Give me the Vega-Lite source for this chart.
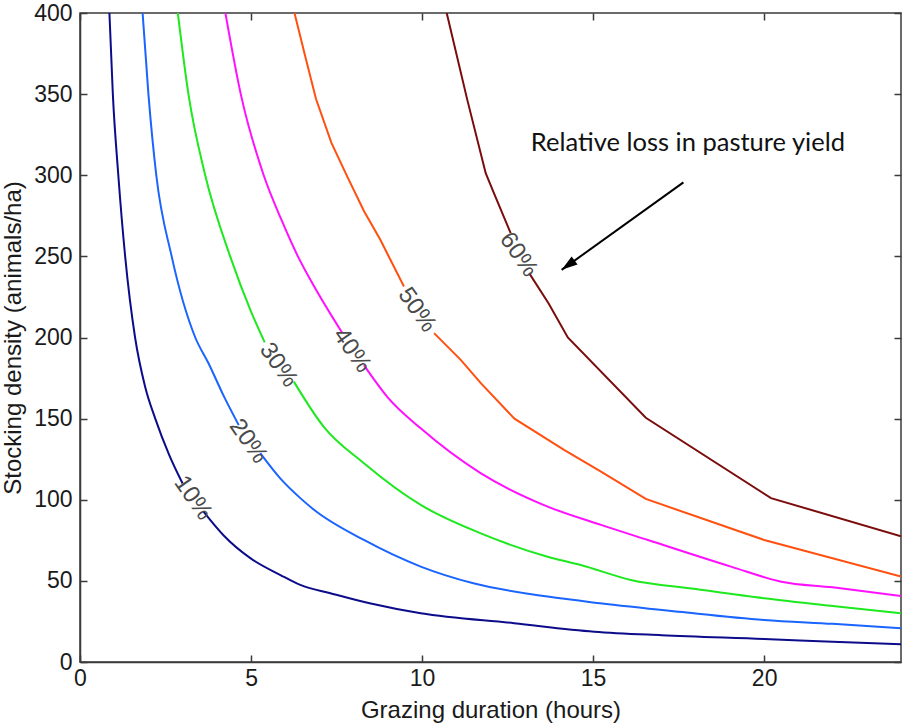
{
  "$schema": "https://vega.github.io/schema/vega-lite/v6.json",
  "width": 821,
  "height": 649,
  "autosize": {"type": "none"},
  "padding": {"left": 80, "top": 13, "right": 4, "bottom": 61},
  "background": "white",
  "config": {
    "view": {"stroke": "#3a3a3a", "strokeWidth": 1.5},
    "axis": {
      "labelFont": "Liberation Sans",
      "titleFont": "Liberation Sans",
      "labelFontSize": 23,
      "titleFontSize": 24,
      "titleFontWeight": "normal",
      "labelColor": "#1a1a1a",
      "titleColor": "#1a1a1a",
      "labelFlush": false,
      "grid": false,
      "domainColor": "#3a3a3a",
      "domainWidth": 1.5,
      "tickColor": "#3a3a3a",
      "tickWidth": 1.5,
      "tickSize": -7
    }
  },
  "datasets": {
    "curves": [
      {"loss": "10%", "seg": "a", "x": 0.86, "y": 400},
      {"loss": "10%", "seg": "a", "x": 0.96, "y": 350},
      {"loss": "10%", "seg": "a", "x": 1.12, "y": 300},
      {"loss": "10%", "seg": "a", "x": 1.32, "y": 250},
      {"loss": "10%", "seg": "a", "x": 1.61, "y": 200},
      {"loss": "10%", "seg": "a", "x": 1.9, "y": 170},
      {"loss": "10%", "seg": "a", "x": 2.2, "y": 150},
      {"loss": "10%", "seg": "a", "x": 2.6, "y": 128},
      {"loss": "10%", "seg": "a", "x": 3.0, "y": 110},
      {"loss": "10%", "seg": "b", "x": 3.61, "y": 92.7},
      {"loss": "10%", "seg": "b", "x": 4.2, "y": 78},
      {"loss": "10%", "seg": "b", "x": 4.98, "y": 64},
      {"loss": "10%", "seg": "b", "x": 5.86, "y": 53.6},
      {"loss": "10%", "seg": "b", "x": 6.44, "y": 47.5},
      {"loss": "10%", "seg": "b", "x": 7.32, "y": 42.4},
      {"loss": "10%", "seg": "b", "x": 8.5, "y": 36},
      {"loss": "10%", "seg": "b", "x": 9.96, "y": 30},
      {"loss": "10%", "seg": "b", "x": 12.69, "y": 23.9},
      {"loss": "10%", "seg": "b", "x": 15.03, "y": 18.7},
      {"loss": "10%", "seg": "b", "x": 17, "y": 16.5},
      {"loss": "10%", "seg": "b", "x": 20, "y": 14.2},
      {"loss": "10%", "seg": "b", "x": 22, "y": 12.5},
      {"loss": "10%", "seg": "b", "x": 24, "y": 10.9},

      {"loss": "20%", "seg": "a", "x": 1.83, "y": 400},
      {"loss": "20%", "seg": "a", "x": 2.0, "y": 350},
      {"loss": "20%", "seg": "a", "x": 2.23, "y": 300},
      {"loss": "20%", "seg": "a", "x": 2.68, "y": 250},
      {"loss": "20%", "seg": "a", "x": 3.37, "y": 200},
      {"loss": "20%", "seg": "a", "x": 3.76, "y": 184},
      {"loss": "20%", "seg": "a", "x": 4.2, "y": 164},
      {"loss": "20%", "seg": "a", "x": 4.64, "y": 146},
      {"loss": "20%", "seg": "b", "x": 5.27, "y": 128.7},
      {"loss": "20%", "seg": "b", "x": 5.86, "y": 113},
      {"loss": "20%", "seg": "b", "x": 6.44, "y": 101},
      {"loss": "20%", "seg": "b", "x": 6.83, "y": 94},
      {"loss": "20%", "seg": "b", "x": 8.3, "y": 75.2},
      {"loss": "20%", "seg": "b", "x": 9.96, "y": 58.8},
      {"loss": "20%", "seg": "b", "x": 11.5, "y": 48.5},
      {"loss": "20%", "seg": "b", "x": 13.67, "y": 40.3},
      {"loss": "20%", "seg": "b", "x": 15.2, "y": 36.2},
      {"loss": "20%", "seg": "b", "x": 17.5, "y": 31},
      {"loss": "20%", "seg": "b", "x": 20, "y": 25.9},
      {"loss": "20%", "seg": "b", "x": 22, "y": 23.5},
      {"loss": "20%", "seg": "b", "x": 24, "y": 20.8},

      {"loss": "30%", "seg": "a", "x": 2.86, "y": 400},
      {"loss": "30%", "seg": "a", "x": 3.17, "y": 350},
      {"loss": "30%", "seg": "a", "x": 3.66, "y": 300},
      {"loss": "30%", "seg": "a", "x": 4.39, "y": 250},
      {"loss": "30%", "seg": "a", "x": 5.0, "y": 216},
      {"loss": "30%", "seg": "a", "x": 5.4, "y": 197},
      {"loss": "30%", "seg": "b", "x": 6.25, "y": 172.8},
      {"loss": "30%", "seg": "b", "x": 7.12, "y": 145.1},
      {"loss": "30%", "seg": "b", "x": 8.3, "y": 122.5},
      {"loss": "30%", "seg": "b", "x": 9.96, "y": 96.8},
      {"loss": "30%", "seg": "b", "x": 11.7, "y": 79.4},
      {"loss": "30%", "seg": "b", "x": 13.67, "y": 64.9},
      {"loss": "30%", "seg": "b", "x": 14.64, "y": 59.8},
      {"loss": "30%", "seg": "b", "x": 16.1, "y": 50.6},
      {"loss": "30%", "seg": "b", "x": 18, "y": 45},
      {"loss": "30%", "seg": "b", "x": 20, "y": 39.3},
      {"loss": "30%", "seg": "b", "x": 22, "y": 34.5},
      {"loss": "30%", "seg": "b", "x": 24, "y": 30},

      {"loss": "40%", "seg": "a", "x": 4.25, "y": 400},
      {"loss": "40%", "seg": "a", "x": 4.7, "y": 350},
      {"loss": "40%", "seg": "a", "x": 5.37, "y": 300},
      {"loss": "40%", "seg": "a", "x": 5.9, "y": 272},
      {"loss": "40%", "seg": "a", "x": 6.37, "y": 250},
      {"loss": "40%", "seg": "a", "x": 6.83, "y": 232},
      {"loss": "40%", "seg": "a", "x": 7.66, "y": 203},
      {"loss": "40%", "seg": "b", "x": 8.3, "y": 183},
      {"loss": "40%", "seg": "b", "x": 9.0, "y": 163},
      {"loss": "40%", "seg": "b", "x": 9.96, "y": 144},
      {"loss": "40%", "seg": "b", "x": 11.71, "y": 116.4},
      {"loss": "40%", "seg": "b", "x": 13.67, "y": 95.8},
      {"loss": "40%", "seg": "b", "x": 15.23, "y": 84.5},
      {"loss": "40%", "seg": "b", "x": 16.6, "y": 75.2},
      {"loss": "40%", "seg": "b", "x": 19.03, "y": 58.8},
      {"loss": "40%", "seg": "b", "x": 20.5, "y": 49.5},
      {"loss": "40%", "seg": "b", "x": 22, "y": 46},
      {"loss": "40%", "seg": "b", "x": 24, "y": 40.7},

      {"loss": "50%", "seg": "a", "x": 6.27, "y": 400},
      {"loss": "50%", "seg": "a", "x": 6.6, "y": 372},
      {"loss": "50%", "seg": "a", "x": 6.9, "y": 347},
      {"loss": "50%", "seg": "a", "x": 7.35, "y": 320},
      {"loss": "50%", "seg": "a", "x": 7.81, "y": 299.3},
      {"loss": "50%", "seg": "a", "x": 8.3, "y": 278},
      {"loss": "50%", "seg": "a", "x": 8.78, "y": 260.2},
      {"loss": "50%", "seg": "a", "x": 9.47, "y": 231.4},
      {"loss": "50%", "seg": "b", "x": 10.35, "y": 202.7},
      {"loss": "50%", "seg": "b", "x": 11.13, "y": 186.2},
      {"loss": "50%", "seg": "b", "x": 11.71, "y": 172},
      {"loss": "50%", "seg": "b", "x": 12.7, "y": 150},
      {"loss": "50%", "seg": "b", "x": 14.15, "y": 130.7},
      {"loss": "50%", "seg": "b", "x": 15.23, "y": 117.4},
      {"loss": "50%", "seg": "b", "x": 16.54, "y": 100.5},
      {"loss": "50%", "seg": "b", "x": 20, "y": 75.2},
      {"loss": "50%", "seg": "b", "x": 24, "y": 52.6},

      {"loss": "60%", "seg": "a", "x": 10.72, "y": 400},
      {"loss": "60%", "seg": "a", "x": 11.32, "y": 346.6},
      {"loss": "60%", "seg": "a", "x": 11.86, "y": 301.3},
      {"loss": "60%", "seg": "a", "x": 12.1, "y": 289},
      {"loss": "60%", "seg": "a", "x": 12.59, "y": 264.3},
      {"loss": "60%", "seg": "b", "x": 13.13, "y": 239.7},
      {"loss": "60%", "seg": "b", "x": 13.7, "y": 221},
      {"loss": "60%", "seg": "b", "x": 14.26, "y": 200},
      {"loss": "60%", "seg": "b", "x": 16.54, "y": 150.5},
      {"loss": "60%", "seg": "b", "x": 20.2, "y": 101},
      {"loss": "60%", "seg": "b", "x": 24, "y": 77.5}
    ],
    "labels": [
      {"loss": "10%", "x": 3.3, "y": 101},
      {"loss": "20%", "x": 4.92, "y": 136},
      {"loss": "30%", "x": 5.8, "y": 183},
      {"loss": "40%", "x": 7.95, "y": 192},
      {"loss": "50%", "x": 9.85, "y": 217},
      {"loss": "60%", "x": 12.82, "y": 251}
    ],
    "note": [
      {"text": "Relative loss in pasture yield", "x": 13.18, "y": 320}
    ],
    "arrow": [
      {"x": 17.64, "y": 295.6, "x2": 14.08, "y2": 241.7}
    ]
  },
  "layer": [
    {
      "data": {"name": "curves"},
      "transform": [{"filter": "datum.loss == '10%' || datum.loss == '20%' || datum.loss == '30%' || datum.loss == '40%'"}],
      "mark": {"type": "line", "strokeWidth": 2, "clip": true, "interpolate": "monotone"},
      "encoding": {
        "x": {
          "field": "x", "type": "quantitative",
          "scale": {"domain": [0, 24], "nice": false, "zero": false},
          "axis": {"title": "Grazing duration (hours)", "values": [0, 5, 10, 15, 20], "labelPadding": 12, "titlePadding": 8}
        },
        "y": {
          "field": "y", "type": "quantitative",
          "scale": {"domain": [0, 400], "nice": false},
          "axis": {"title": "Stocking density (animals/ha)", "values": [0, 50, 100, 150, 200, 250, 300, 350, 400], "labelPadding": 15, "titlePadding": 8}
        },
        "detail": {"field": "seg"},
        "color": {
          "field": "loss", "type": "nominal", "legend": null,
          "scale": {
            "domain": ["10%", "20%", "30%", "40%", "50%", "60%"],
            "range": ["#0c0c8a", "#1a64ff", "#1ee81e", "#ff10ff", "#ff5010", "#7a0c0c"]
          }
        }
      }
    },
    {
      "data": {"name": "curves"},
      "transform": [{"filter": "datum.loss == '50%' || datum.loss == '60%'"}],
      "mark": {"type": "line", "strokeWidth": 2, "clip": true, "interpolate": "linear"},
      "encoding": {
        "x": {"field": "x", "type": "quantitative", "axis": null},
        "y": {"field": "y", "type": "quantitative", "axis": null},
        "detail": {"field": "seg"},
        "color": {"field": "loss", "type": "nominal", "legend": null}
      }
    },
    {
      "data": {"name": "labels"},
      "mark": {"type": "text", "angle": 55, "font": "Liberation Sans", "fontSize": 24, "color": "#4a4a4a", "align": "center", "baseline": "middle"},
      "encoding": {
        "x": {"field": "x", "type": "quantitative", "axis": {"orient": "top", "labels": false, "title": null, "domain": false, "values": [0, 5, 10, 15, 20]}},
        "y": {"field": "y", "type": "quantitative", "axis": {"orient": "right", "labels": false, "title": null, "domain": false, "values": [0, 50, 100, 150, 200, 250, 300, 350, 400]}},
        "text": {"field": "loss"}
      }
    },
    {
      "data": {"name": "note"},
      "mark": {"type": "text", "font": "Lato", "fontSize": 25.5, "color": "#111111", "align": "left", "baseline": "middle"},
      "encoding": {
        "x": {"field": "x", "type": "quantitative", "axis": null},
        "y": {"field": "y", "type": "quantitative", "axis": null},
        "text": {"field": "text"}
      }
    },
    {
      "data": {"name": "arrow"},
      "mark": {"type": "rule", "strokeWidth": 2, "color": "#000000"},
      "encoding": {
        "x": {"field": "x", "type": "quantitative", "axis": null},
        "y": {"field": "y", "type": "quantitative", "axis": null},
        "x2": {"field": "x2"},
        "y2": {"field": "y2"}
      }
    },
    {
      "data": {"name": "arrow"},
      "mark": {"type": "point", "shape": "M0,0L0.5,1.6L-0.5,1.6Z", "size": 400, "filled": true, "color": "#000000", "opacity": 1, "angle": 234, "strokeWidth": 0},
      "encoding": {
        "x": {"field": "x2", "type": "quantitative", "axis": null},
        "y": {"field": "y2", "type": "quantitative", "axis": null}
      }
    }
  ],
  "resolve": {"axis": {"x": "independent", "y": "independent"}}
}
